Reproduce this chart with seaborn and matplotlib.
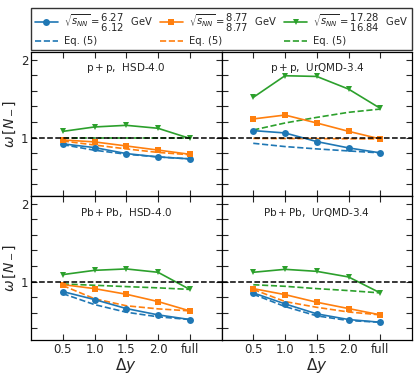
import numpy as np
import pandas as pd
import matplotlib
matplotlib.use("Agg")
import matplotlib.pyplot as plt
from matplotlib.ticker import MultipleLocator, FixedLocator
from matplotlib.lines import Line2D
import seaborn as sns

sns.set_style("ticks")
plt.rcParams['font.family'] = ['DejaVu Sans']
plt.rcParams['mathtext.fontset'] = 'dejavusans'

dy_labels = ["0.5", "1.0", "1.5", "2.0", "full"]
dy_pos = [0.5, 1.0, 1.5, 2.0, 2.5]

energies = [("6.27", "6.12"), ("8.77", "8.77"), ("17.28", "16.84")]
colors = ["#1f77b4", "#ff7f0e", "#2ca02c"]
markers = ["o", "s", "v"]

panel_titles = [
    r"$\mathrm{p}+\mathrm{p}$,  HSD-4.0",
    r"$\mathrm{p}+\mathrm{p}$,  UrQMD-3.4",
    r"$\mathrm{Pb}+\mathrm{Pb}$,  HSD-4.0",
    r"$\mathrm{Pb}+\mathrm{Pb}$,  UrQMD-3.4",
]

# model values (solid) per panel: [blue, orange, green]
pp_hsd_model = [
    [0.92, 0.872, 0.795, 0.752, 0.727],
    [0.97, 0.945, 0.893, 0.84, 0.786],
    [1.08, 1.137, 1.158, 1.12, 0.99],
]
pp_hsd_eq5 = [
    [0.91, 0.838, 0.787, 0.752, 0.727],
    [0.957, 0.905, 0.855, 0.81, 0.78],
    [1.0, 1.0, 1.0, 1.0, 1.0],
]
pp_urqmd_model = [
    [1.09, 1.06, 0.949, 0.868, 0.804],
    [1.24, 1.29, 1.188, 1.081, 0.983],
    [1.517, 1.795, 1.786, 1.624, 1.376],
]
pp_urqmd_eq5 = [
    [0.927, 0.885, 0.855, 0.829, 0.804],
    [0.99, 0.988, 0.987, 0.985, 0.983],
    [1.098, 1.188, 1.26, 1.325, 1.367],
]
pbpb_hsd_model = [
    [0.872, 0.77, 0.654, 0.573, 0.513],
    [0.962, 0.91, 0.838, 0.744, 0.624],
    [1.09, 1.145, 1.163, 1.12, 0.90],
]
pbpb_hsd_eq5 = [
    [0.846, 0.705, 0.607, 0.548, 0.513],
    [0.95, 0.78, 0.69, 0.65, 0.624],
    [0.97, 0.953, 0.936, 0.92, 0.90],
]
pbpb_urqmd_model = [
    [0.855, 0.714, 0.586, 0.513, 0.478],
    [0.91, 0.833, 0.735, 0.654, 0.573],
    [1.12, 1.158, 1.132, 1.06, 0.855],
]
pbpb_urqmd_eq5 = [
    [0.838, 0.68, 0.56, 0.50, 0.478],
    [0.90, 0.744, 0.67, 0.61, 0.573],
    [0.96, 0.94, 0.91, 0.885, 0.855],
]

models = [pp_hsd_model, pp_urqmd_model, pbpb_hsd_model, pbpb_urqmd_model]
eqs = [pp_hsd_eq5, pp_urqmd_eq5, pbpb_hsd_eq5, pbpb_urqmd_eq5]

fig = plt.figure(figsize=(4.17, 3.76), dpi=100)
L, R, T, B = 31/417, 412/417, 1-52/376, 1-340/376
W = (R-L)/2
H = (T-B)/2
axes = []
for r in range(2):
    for c in range(2):
        ax = fig.add_axes([L + c*W, T - (r+1)*H, W, H])
        axes.append(ax)

for i, ax in enumerate(axes):
    for k in range(3):
        df_m = pd.DataFrame({"x": dy_pos, "y": models[i][k]})
        df_e = pd.DataFrame({"x": dy_pos, "y": eqs[i][k]})
        sns.lineplot(data=df_m, x="x", y="y", ax=ax, color=colors[k],
                     marker=markers[k], markersize=5, markeredgewidth=0,
                     linewidth=1.2, zorder=3)
        sns.lineplot(data=df_e, x="x", y="y", ax=ax, color=colors[k],
                     linestyle="--", linewidth=1.2, zorder=2)
    ax.axhline(1.0, color="black", linestyle="--", linewidth=1.1, zorder=4)
    ax.set_xlim(0, 3)
    ax.set_ylim(0.25, 2.1)
    ax.xaxis.set_major_locator(FixedLocator(dy_pos))
    ax.yaxis.set_major_locator(FixedLocator([1, 2]))
    ax.yaxis.set_minor_locator(MultipleLocator(0.2))
    ax.tick_params(which="both", direction="in", top=True, right=True,
                   length=4, width=0.8, labelsize=8.5, pad=2)
    ax.text(1.5, 1.89, panel_titles[i], ha="center", va="center", fontsize=7.5)
    r, c = divmod(i, 2)
    if r == 1:
        ax.set_xticklabels(dy_labels)
        ax.set_xlabel(r"$\Delta y$", fontsize=11, labelpad=0)
    else:
        ax.set_xticklabels([])
        ax.set_xlabel("")
    if c == 0:
        ax.set_yticklabels(["1", "2"])
        ax.set_ylabel(r"$\omega\,[N_-]$", fontsize=10, labelpad=2)
    else:
        ax.set_yticklabels([])
        ax.set_ylabel("")
    for s in ax.spines.values():
        s.set_linewidth(0.9)
        s.set_color("black")
    if ax.get_legend():
        ax.get_legend().remove()

hs, ls = [], []
for k in range(3):
    hs.append(Line2D([], [], color=colors[k], marker=markers[k], markersize=5,
                     markeredgewidth=0, linewidth=1.2))
    ls.append(r"$\sqrt{s_{NN}}=\genfrac{}{}{0}{0}{%s}{%s}$  GeV" % energies[k])
for k in range(3):
    hs.append(Line2D([], [], color=colors[k], linestyle="--", linewidth=1.2))
    ls.append("Eq. (5)")
order = [0, 3, 1, 4, 2, 5]
leg = fig.legend([hs[j] for j in order], [ls[j] for j in order], ncol=3,
                 loc="lower left", bbox_to_anchor=(L, 1-50/376, R-L, 45/376),
                 mode="expand", fontsize=7.2, frameon=True, fancybox=False,
                 edgecolor="black", handlelength=2.3, handletextpad=0.6,
                 borderaxespad=0, columnspacing=0.8, labelspacing=0.3,
                 borderpad=0.35)
leg.get_frame().set_linewidth(1.0)

fig.savefig("out.png", dpi=100)
